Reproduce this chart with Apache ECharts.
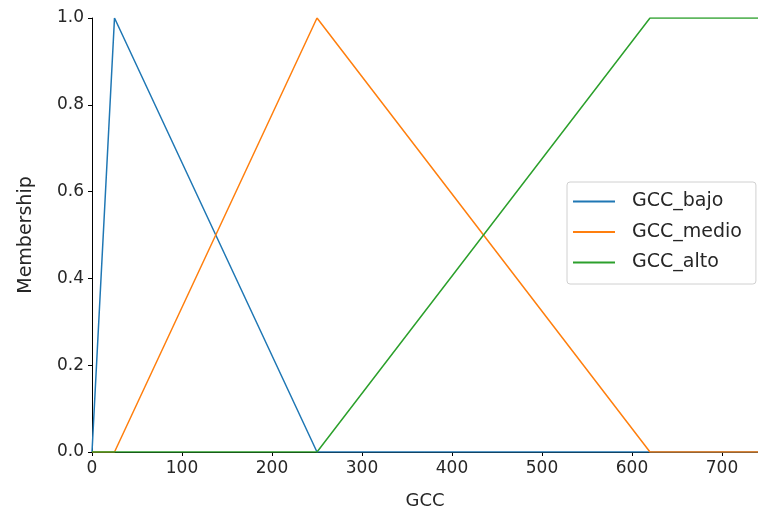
<!DOCTYPE html>
<html>
<head>
<meta charset="utf-8">
<script src="https://cdn.jsdelivr.net/npm/echarts@6/dist/echarts.min.js"></script>
<style>
  html, body { margin: 0; padding: 0; background: #fff; }
  #chart { width: 758px; height: 518px; }
</style>
</head>
<body>
<div id="chart"></div>
<script>
// membership functions
const bajoX = [0, 25, 250, 740];
const bajoY = [0, 1, 0, 0];
const medioX = [0, 25, 250, 620, 740];
const medioY = [0, 0, 1, 0, 0];
const altoX = [0, 250, 620, 740];
const altoY = [0, 0, 1, 1];

const names = ["GCC_bajo", "GCC_medio", "GCC_alto"];
const colors = ["#1f77b4", "#ff7f0e", "#2ca02c"];

const pairs = (xs, ys) => xs.map((x, i) => [x, ys[i]]);
const font = "DejaVu Sans";

const chart = echarts.init(document.getElementById("chart"));
chart.setOption({
	animation: false,
	grid: { left: 92, right: 0, top: 18, bottom: 66 },
	legend: {
		orient: "vertical",
		left: 567,
		top: 182,
		padding: [10, 14, 12, 6],
		itemWidth: 42,
		itemHeight: 2,
		itemGap: 11.5,
		borderColor: "#d0d0d0",
		borderWidth: 1,
		borderRadius: 3,
		backgroundColor: "#fff",
		icon: "rect",
		textStyle: { fontFamily: font, fontSize: 19, color: "#262626", padding: [0, 0, 0, 12] },
		data: names
	},
	xAxis: {
		type: "value",
		min: 0,
		max: 740,
		interval: 100,
		name: "GCC",
		nameLocation: "middle",
		nameGap: 40,
		nameTextStyle: { fontFamily: font, fontSize: 18, color: "#262626" },
		axisLine: { show: true, lineStyle: { color: "#000", width: 1 } },
		axisTick: { show: true, length: 4, lineStyle: { color: "#000" } },
		axisLabel: { fontFamily: font, fontSize: 17, color: "#262626", margin: 8, showMaxLabel: false },
		splitLine: { show: false }
	},
	yAxis: {
		type: "value",
		min: 0,
		max: 1,
		interval: 0.2,
		name: "Membership",
		nameLocation: "middle",
		nameGap: 56,
		nameTextStyle: { fontFamily: font, fontSize: 19, color: "#262626" },
		axisLine: { show: true, lineStyle: { color: "#000", width: 1 } },
		axisTick: { show: true, length: 4, lineStyle: { color: "#000" } },
		axisLabel: { fontFamily: font, fontSize: 17, color: "#262626", margin: 8, formatter: (v) => v.toFixed(1) },
		splitLine: { show: false }
	},
	series: [
		{ name: names[0], type: "line", data: pairs(bajoX, bajoY) },
		{ name: names[1], type: "line", data: pairs(medioX, medioY) },
		{ name: names[2], type: "line", data: pairs(altoX, altoY) }
	].map((s, i) => Object.assign(s, {
		showSymbol: false,
		symbol: "none",
		color: colors[i],
		lineStyle: { width: 1.5, color: colors[i] }
	}))
});
</script>
</body>
</html>
